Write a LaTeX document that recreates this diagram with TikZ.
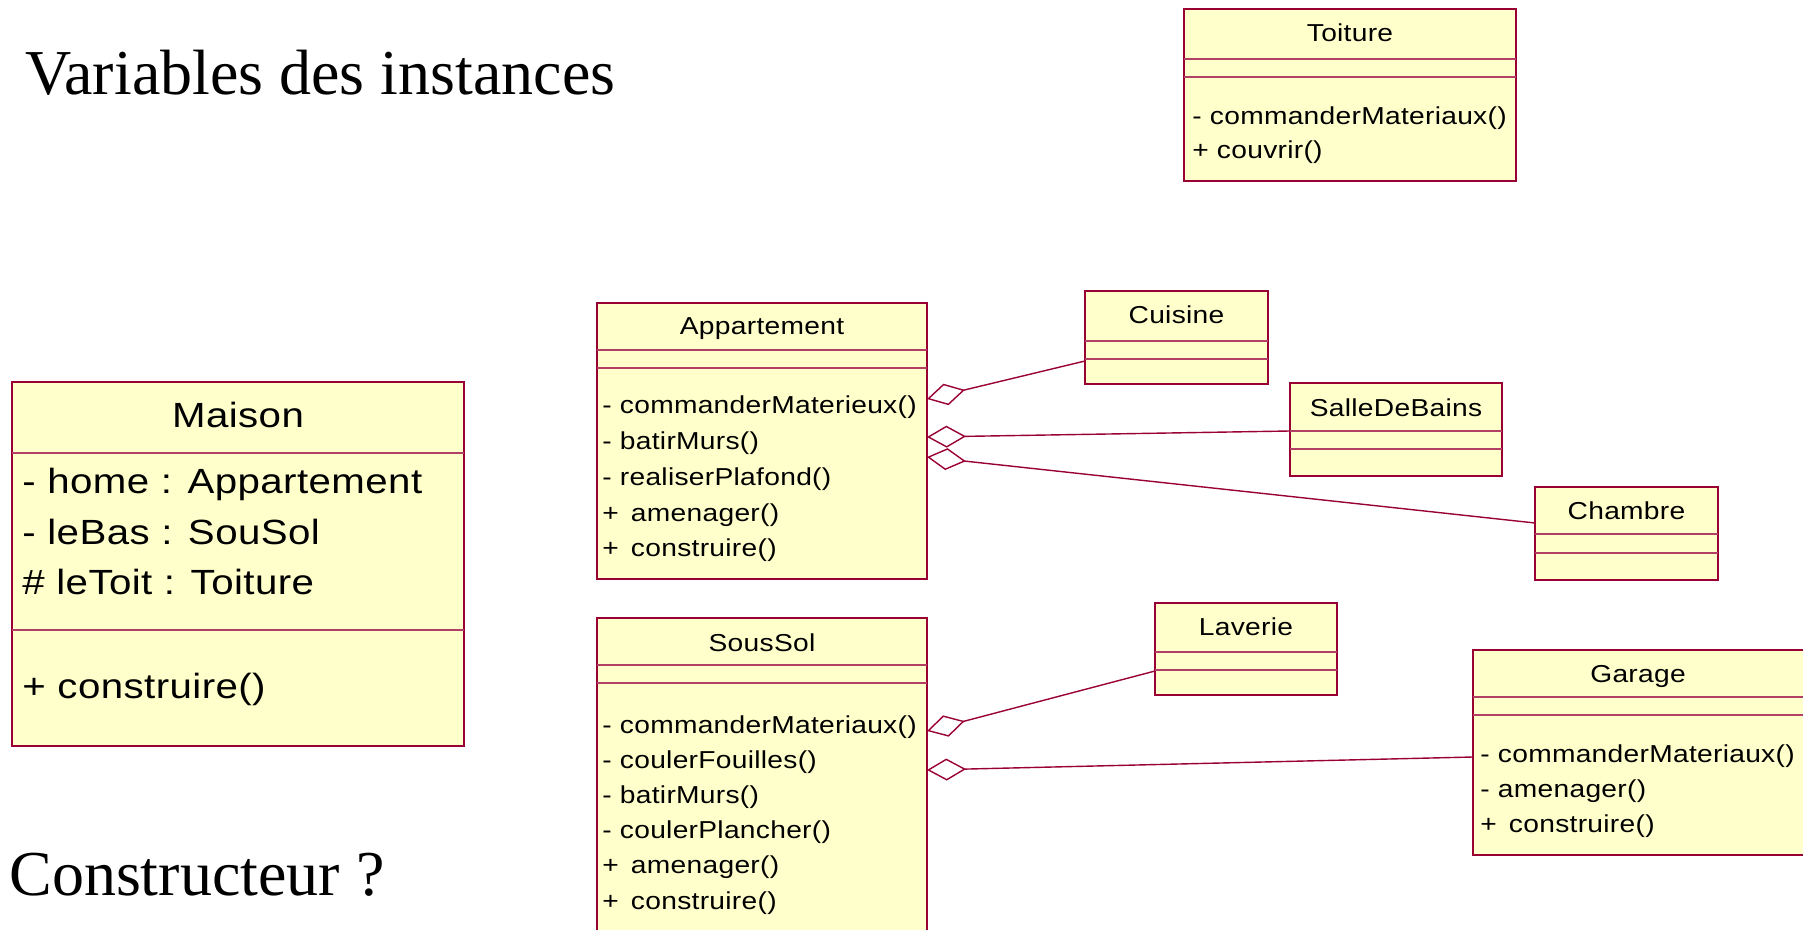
\documentclass[tikz,border=0pt]{standalone}
\usepackage{fontspec}
\newfontfamily\umlfont[FakeStretch=1.15,LetterSpace=1.2]{Liberation Sans}
\newfontfamily\titlefont{Liberation Serif}
\usetikzlibrary{arrows.meta,calc}
\definecolor{umlred}{RGB}{153,0,51}
\definecolor{umlfill}{RGB}{255,255,204}

\begin{document}
\begin{tikzpicture}[x=0.5pt, y=-0.5pt,
	classbox/.style={draw=umlred, fill=umlfill, line width=1pt, inner sep=0pt, outer sep=0pt, anchor=north west},
	part/.style={draw=umlred!75, line width=0.7pt},
	cname/.style={anchor=base, inner sep=0pt, font=\umlfont\fontsize{12.25}{14}\selectfont},
	meth/.style={anchor=base west, inner sep=0pt, font=\umlfont\fontsize{12.25}{14}\selectfont},
	big/.style={anchor=base west, inner sep=0pt, font=\umlfont\fontsize{17.5}{20}\selectfont},
	headline/.style={anchor=base west, inner sep=0pt, font=\titlefont\fontsize{32}{36}\selectfont},
	agg/.style={draw=umlred, line width=0.7pt, arrows={Diamond[open,length=19.5pt,width=11pt]-}}]
	%\draw [help lines] (0,0) grid[step=100] (1803,930);
	\useasboundingbox (0,0) rectangle (1803,930);
	\clip (0,0) rectangle (1803,930);

	\node[headline] (vars) at (25,95) {Variables des instances};
	\node[headline] (ctor) at (9,895) {Constructeur ?};

	% Maison
	\node[classbox, minimum width=226pt, minimum height=182pt] (maison) at (12,382) {};
	\draw[part] (maison.west |- 0,453) -- (maison.east |- 0,453);
	\draw[part] (maison.west |- 0,630) -- (maison.east |- 0,630);
	\node[anchor=base, inner sep=0pt, font=\umlfont\fontsize{17.5}{20}\selectfont] (maisonT) at (maison.north |- 0,428) {Maison};
	\node[big] (mA1) at (22,493) {- home : Appartement};
	\node[big] (mA2) at (22,544) {- leBas : SouSol};
	\node[big] (mA3) at (22,594) {\# leToit : Toiture};
	\node[big] (mM1) at (22,698) {+ construire()};

	% Toiture
	\node[classbox, minimum width=166pt, minimum height=86pt] (toit) at (1184,9) {};
	\draw[part] (toit.west |- 0,59) -- (toit.east |- 0,59);
	\draw[part] (toit.west |- 0,77) -- (toit.east |- 0,77);
	\node[cname] (toitT) at (toit.north |- 0,42) {Toiture};
	\node[meth] (toitM1) at (1192,125) {- commanderMateriaux()};
	\node[meth] (toitM2) at (1192,159) {+ couvrir()};

	% Appartement
	\node[classbox, minimum width=165pt, minimum height=138pt] (appart) at (597,303) {};
	\draw[part] (appart.west |- 0,350) -- (appart.east |- 0,350);
	\draw[part] (appart.west |- 0,368) -- (appart.east |- 0,368);
	\node[cname] (appartT) at (appart.north |- 0,335) {Appartement};
	\foreach \m [count=\i] in {- commanderMaterieux(), - batirMurs(), - realiserPlafond(), +\hspace{2pt} amenager(), +\hspace{2pt} construire()}
		\node[meth] (apM\i) at (602,{414+35.7*(\i-1)}) {\m};

	% SousSol
	\node[classbox, minimum width=165pt, minimum height=165pt] (soussol) at (597,618) {};
	\draw[part] (soussol.west |- 0,665) -- (soussol.east |- 0,665);
	\draw[part] (soussol.west |- 0,683) -- (soussol.east |- 0,683);
	\node[cname] (soussolT) at (soussol.north |- 0,651) {SousSol};
	\foreach \m [count=\i] in {- commanderMateriaux(), - coulerFouilles(), - batirMurs(), - coulerPlancher(), +\hspace{2pt} amenager(), +\hspace{2pt} construire()}
		\node[meth] (ssM\i) at (602,{733+35.2*(\i-1)}) {\m};

	% small rooms
	\node[classbox, minimum width=91.5pt, minimum height=46.5pt] (cuisine) at (1085,291) {};
	\draw[part] (cuisine.west |- 0,341) -- (cuisine.east |- 0,341);
	\draw[part] (cuisine.west |- 0,359) -- (cuisine.east |- 0,359);
	\node[cname] (cuisineT) at (cuisine.north |- 0,324) {Cuisine};

	\node[classbox, minimum width=106pt, minimum height=46.5pt] (salle) at (1290,383) {};
	\draw[part] (salle.west |- 0,431) -- (salle.east |- 0,431);
	\draw[part] (salle.west |- 0,449) -- (salle.east |- 0,449);
	\node[cname] (salleT) at (salle.north |- 0,416) {SalleDeBains};

	\node[classbox, minimum width=91.5pt, minimum height=46.5pt] (chambre) at (1535,487) {};
	\draw[part] (chambre.west |- 0,534) -- (chambre.east |- 0,534);
	\draw[part] (chambre.west |- 0,553) -- (chambre.east |- 0,553);
	\node[cname] (chambreT) at (chambre.north |- 0,519) {Chambre};

	\node[classbox, minimum width=91pt, minimum height=46pt] (laverie) at (1155,603) {};
	\draw[part] (laverie.west |- 0,652) -- (laverie.east |- 0,652);
	\draw[part] (laverie.west |- 0,670) -- (laverie.east |- 0,670);
	\node[cname] (laverieT) at (laverie.north |- 0,635) {Laverie};

	% Garage
	\node[classbox, minimum width=167.5pt, minimum height=102.5pt] (garage) at (1473,650) {};
	\draw[part] (garage.west |- 0,697) -- (garage.east |- 0,697);
	\draw[part] (garage.west |- 0,715) -- (garage.east |- 0,715);
	\node[cname] (garageT) at (1638,682) {Garage};
	\foreach \m [count=\i] in {- commanderMateriaux(), - amenager(), +\hspace{2pt} construire()}
		\node[meth] (gaM\i) at (1480,{762+35*(\i-1)}) {\m};

	% aggregations
	\draw[agg] ($(appart.north east)+(0,96)$) -- ($(cuisine.north west)+(0,70)$);
	\draw[agg] ($(appart.north east)+(0,134)$) -- ($(salle.north west)+(0,48)$);
	\draw[agg] ($(appart.north east)+(0,154)$) -- ($(chambre.north west)+(0,36)$);
	\draw[agg] ($(soussol.north east)+(0,113)$) -- ($(laverie.north west)+(0,68)$);
	\draw[agg] ($(soussol.north east)+(0,152)$) -- ($(garage.north west)+(0,107)$);
\end{tikzpicture}
\end{document}
